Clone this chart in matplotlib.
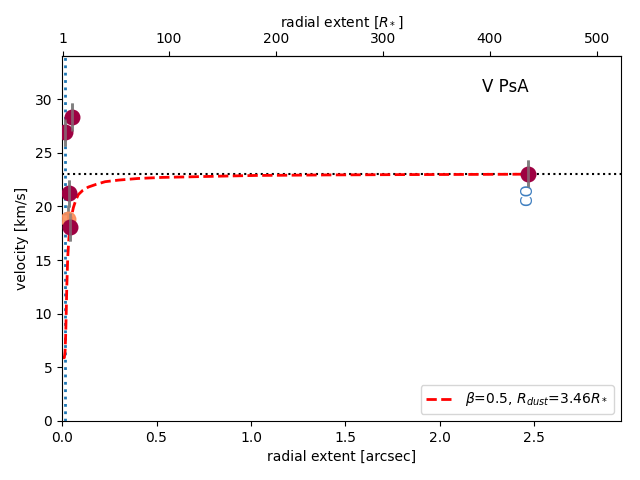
import matplotlib
matplotlib.use("Agg")
import matplotlib.pyplot as plt

# data
# observed velocities (arcsec, km/s, error)
r_obs = [0.016, 0.051, 0.037, 0.042]
v_obs = [26.9, 28.3, 21.2, 18.05]
v_err = [1.25, 1.3, 1.3, 1.3]

# orange point
r_or = [0.030]
v_or = [18.8]
e_or = [1.3]

# CO point
r_co = [2.466]
v_co = [23.05]
e_co = [1.25]

# beta-law curve
r_mod = [0.005, 0.012, 0.016, 0.019, 0.021, 0.025, 0.030, 0.036, 0.042, 0.050, 0.060,
         0.073, 0.086, 0.11, 0.139, 0.18, 0.228, 0.30, 0.402, 0.53, 0.667, 0.85,
         1.02, 1.4, 1.8, 2.2, 2.466]
v_mod = [5.9, 5.9, 6.5, 8.0, 9.4, 12.5, 15.3, 17.0, 18.1, 19.1, 19.9,
         20.6, 21.1, 21.5, 21.8, 22.05, 22.3, 22.45, 22.6, 22.7, 22.75, 22.82,
         22.88, 22.93, 22.96, 22.98, 23.0]

v_inf = 23.05
r_dust_line = 0.016
rstar_arcsec = 0.00566

fig = plt.figure(figsize=(6.4, 4.8), dpi=100)
ax = fig.add_axes([0.097, 0.123, 0.873, 0.760])

ax.axvline(r_dust_line, color="#1f77b4", ls=":", lw=2)
ax.axhline(v_inf, color="black", ls=":", lw=1.5)
ax.plot(r_mod, v_mod, color="red", ls="--", lw=2,
        label=r"$\beta$=0.5, $R_{dust}$=3.46$R_*$")

ax.errorbar(r_obs, v_obs, yerr=v_err, fmt="none", ecolor="grey", elinewidth=2, zorder=3)
ax.errorbar(r_or, v_or, yerr=e_or, fmt="none", ecolor="grey", elinewidth=2, zorder=3)
ax.errorbar(r_co, v_co, yerr=e_co, fmt="none", ecolor="grey", elinewidth=2, zorder=3)
ax.scatter(r_or, v_or, s=110, color="#fc8d59", alpha=0.9, zorder=4)
ax.scatter(r_obs, v_obs, s=110, color="#9e0142", zorder=5)
ax.scatter(r_co, v_co, s=110, color="#9e0142", zorder=5)
ax.errorbar(r_obs + r_co, v_obs + v_co, yerr=v_err + e_co, fmt="none",
            ecolor="grey", elinewidth=2, alpha=0.7, zorder=6)

ax.text(2.466, 21.1, "CO", rotation=90, color="#3f7fc0", fontsize=11,
        ha="center", va="center")
ax.text(2.344, 31.1, "V PsA", fontsize=12, ha="center", va="center")

ax.set_xlim(0, 2.958)
ax.set_ylim(0, 34)
ax.set_xticks([0, 0.5, 1.0, 1.5, 2.0, 2.5])
ax.set_xlabel("radial extent [arcsec]")
ax.set_ylabel("velocity [km/s]")
ax.legend(loc="lower right")

top = ax.secondary_xaxis("top", functions=(lambda x: x / rstar_arcsec,
                                           lambda r: r * rstar_arcsec))
top.set_xticks([1, 100, 200, 300, 400, 500])
top.set_xlabel(r"radial extent [$R_*$]")

fig.savefig("out.png", dpi=100)
